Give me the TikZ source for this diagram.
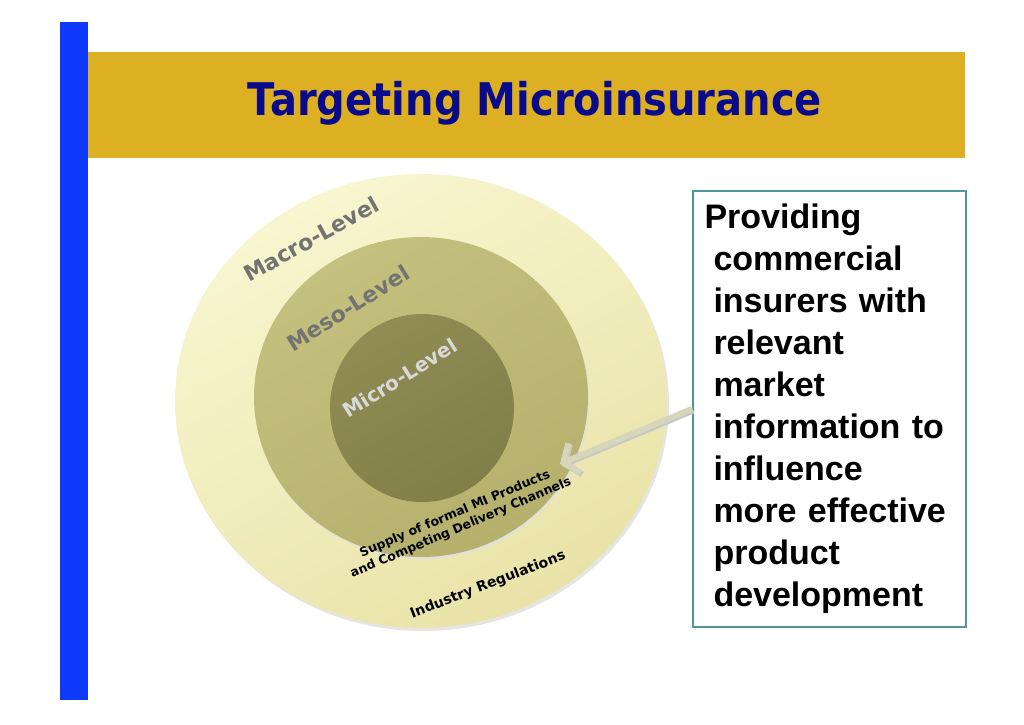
\documentclass[tikz,border=0pt]{standalone}
\usepackage{fontspec}
\setmainfont{Liberation Sans}
\newfontfamily\verd{DejaVu Sans}
\usepackage{tikz}
\usetikzlibrary{arrows.meta, calc}
\definecolor{barBlue}{RGB}{16,58,250}
\definecolor{bandGold}{RGB}{220,176,34}
\definecolor{titleNavy}{RGB}{10,10,140}
\definecolor{macroLt}{RGB}{248,246,208}
\definecolor{macroDk}{RGB}{233,227,168}
\definecolor{mesoLt}{RGB}{196,192,126}
\definecolor{mesoDk}{RGB}{181,176,108}
\definecolor{microLt}{RGB}{144,140,84}
\definecolor{microDk}{RGB}{130,126,72}
\definecolor{boxTeal}{RGB}{78,151,155}
\definecolor{arrowKhaki}{RGB}{216,214,186}
\newcommand{\ind}{\hspace*{9pt}}
\tikzset{
  lvltext/.style={font=\verd\bfseries\fontsize{22}{26}\selectfont, inner sep=0pt, black!55},
  ringtext/.style={font=\verd\bfseries, align=center, inner sep=0pt, black},
  arrowline/.style={arrowKhaki, line width=6pt, -{Straight Barb[length=12pt, width=32pt]},
    preaction={draw=black!22, line width=6pt, transform canvas={shift={(1.5pt,-1.5pt)}}}}
}
\begin{document}
\begin{tikzpicture}[x=1pt, y=-1pt]
\useasboundingbox (0,0) rectangle (1024,724);
% ===== frame: blue bar and gold title band =====
\fill[barBlue] (60,22) rectangle (88,700);
\fill[bandGold] (88,52) rectangle (965,158);
\node[titleNavy, font=\verd\bfseries\fontsize{45}{54}\selectfont] (title) at (535,103)
  {\scalebox{0.89}[1]{Targeting Microinsurance}};
% ===== nested level circles =====
\fill[black!10] (423,404) ellipse (246 and 227);
\shade[top color=macroLt, bottom color=macroDk, shading angle=30] (421,401) ellipse (246 and 227);
\fill[black!12] (422,399) ellipse (167 and 160);
\shade[top color=mesoLt, bottom color=mesoDk, shading angle=30] (421,397) ellipse (167 and 160);
\shade[top color=microLt, bottom color=microDk, shading angle=30] (422,408) ellipse (92 and 94);
% level labels
\node[lvltext, rotate=29] (macro) at (311,239) {Macro-Level};
\node[lvltext, rotate=32] (meso) at (348,308) {Meso-Level};
\node[lvltext, rotate=32, font=\verd\bfseries\fontsize{20}{24}\selectfont, black!15] (micro) at (400,378) {Micro-Level};
% ring captions
\node[ringtext, rotate=23, font=\verd\bfseries\fontsize{12.5}{15}\selectfont] (supply) at (458,521)
  {Supply of formal MI Products\\and Competing Delivery Channels};
\node[ringtext, rotate=21, font=\verd\bfseries\fontsize{14}{16}\selectfont] (regs) at (488,585) {Industry Regulations};
% ===== info box and pointer =====
\node[draw=boxTeal, line width=2.5pt, fill=white, minimum width=273pt, minimum height=436pt,
  text width=250pt, align=left, inner sep=0pt, font=\bfseries\fontsize{34}{42}\selectfont] (info) at (829.5,409)
  {Providing\\\ind commercial\\\ind insurers with\\\ind relevant\\\ind market\\\ind information to\\\ind influence\\\ind more effective\\\ind product\\\ind development};
\coordinate (supplytip) at (560,464);
\draw[arrowline] (info.west) -- (supplytip);
\end{tikzpicture}
\end{document}
